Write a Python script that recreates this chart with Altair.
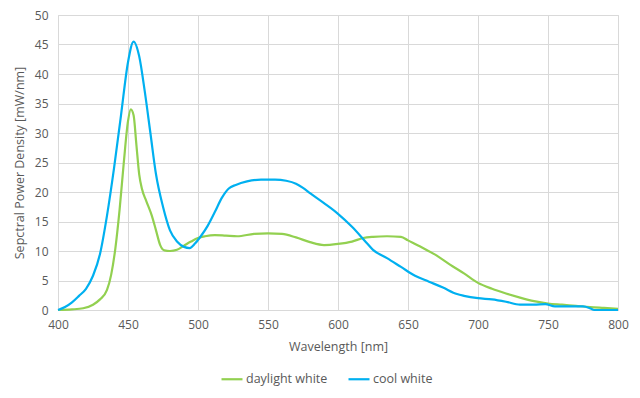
import altair as alt
import pandas as pd

cool_nm = [400, 405, 410, 415, 420, 425, 430, 435, 440, 445, 450, 454, 458, 462, 466, 470,
           475, 480, 485, 490, 494, 498, 502, 507, 512, 517, 522, 527, 535, 545, 555, 563,
           570, 575, 580, 590, 600, 610, 620, 625, 635, 645, 655, 665, 675, 685, 690, 700,
           710, 720, 730, 740, 748, 755, 765, 775, 780, 783, 800]
cool_val = [0, 0.5, 1.3, 2.4, 3.6, 5.8, 9.5, 16, 24, 33, 42, 45.5, 43, 37, 30, 23,
            17.5, 13.5, 11.6, 10.7, 10.5, 11.3, 12.5, 14.3, 16.6, 19.0, 20.6, 21.2, 21.8, 22.1, 22.1, 21.9,
            21.4, 20.7, 19.8, 18.1, 16.3, 14.1, 11.5, 10.2, 8.8, 7.3, 5.8, 4.8, 3.8, 2.7, 2.4, 2.0,
            1.8, 1.4, 0.9, 0.9, 1.0, 0.6, 0.6, 0.6, 0.3, 0, 0]

day_nm = [400, 410, 418, 425, 430, 435, 438, 441, 444, 447, 450, 452, 454, 456, 458, 460,
          463, 467, 470, 473, 476, 480, 485, 490, 495, 500, 505, 512, 520, 528, 540, 550,
          560, 570, 580, 590, 600, 610, 618, 625, 635, 645, 650, 660, 670, 680, 690, 700,
          710, 720, 730, 740, 750, 760, 770, 780, 790, 800]
day_val = [0, 0.1, 0.3, 0.9, 1.8, 3.4, 6, 10.5, 17, 25, 32, 34, 33, 28, 23, 20.5,
           18.5, 16, 13.5, 11, 10.1, 10, 10.2, 10.9, 11.6, 12.2, 12.5, 12.7, 12.6, 12.5, 12.9, 13.0,
           12.9, 12.3, 11.5, 11.0, 11.2, 11.6, 12.2, 12.4, 12.5, 12.4, 11.8, 10.6, 9.3, 7.7, 6.2, 4.6,
           3.6, 2.8, 2.1, 1.5, 1.1, 0.9, 0.7, 0.5, 0.35, 0.2]

series = ["daylight white", "cool white"]
colors = ["#92D050", "#00B0F0"]

df = pd.concat([
    pd.DataFrame({"nm": day_nm, "val": day_val, "series": series[0], "order": range(len(day_nm))}),
    pd.DataFrame({"nm": cool_nm, "val": cool_val, "series": series[1], "order": range(len(cool_nm))}),
])

FONT = "Open Sans"
GRAY = "#595959"
GRID = "#d9d9d9"

chart = alt.Chart(df).mark_line(strokeWidth=2.2, interpolate="monotone").encode(
    x=alt.X("nm:Q", scale=alt.Scale(domain=[400, 800], nice=False),
            axis=alt.Axis(title="Wavelength [nm]", values=list(range(400, 801, 50)),
                          grid=True, gridColor=GRID, ticks=False, domain=True,
                          domainColor=GRID, labelPadding=9, titlePadding=10, labelFlush=False,
                          labelFont=FONT, labelFontSize=12, labelColor=GRAY,
                          titleFont=FONT, titleFontSize=12.5, titleFontWeight="normal",
                          titleColor=GRAY)),
    y=alt.Y("val:Q", scale=alt.Scale(domain=[0, 50], nice=False),
            axis=alt.Axis(title="Sepctral Power Density [mW/nm]", values=list(range(0, 51, 5)),
                          grid=True, gridColor=GRID, ticks=False, domain=False,
                          labelPadding=10, titlePadding=8, labelFlush=False,
                          labelFont=FONT, labelFontSize=12, labelColor=GRAY,
                          titleFont=FONT, titleFontSize=12.5, titleFontWeight="normal",
                          titleColor=GRAY)),
    color=alt.Color("series:N", scale=alt.Scale(domain=series, range=colors),
                    legend=alt.Legend(title=None, orient="none", legendX=162, legendY=352,
                                      direction="horizontal", symbolType="stroke",
                                      symbolSize=441, symbolStrokeWidth=2.2,
                                      labelFont=FONT, labelFontSize=12.5, labelColor=GRAY,
                                      labelOffset=2, columnPadding=16)),
    order="order:Q",
).properties(
    width=560, height=295,
    autosize=alt.AutoSizeParams(type="none"),
    padding={"left": 50, "top": 7, "right": 14, "bottom": 80},
).configure_view(stroke=None).configure(background="white")

chart.save("out.html", embed_options={"renderer": "svg", "actions": False})
